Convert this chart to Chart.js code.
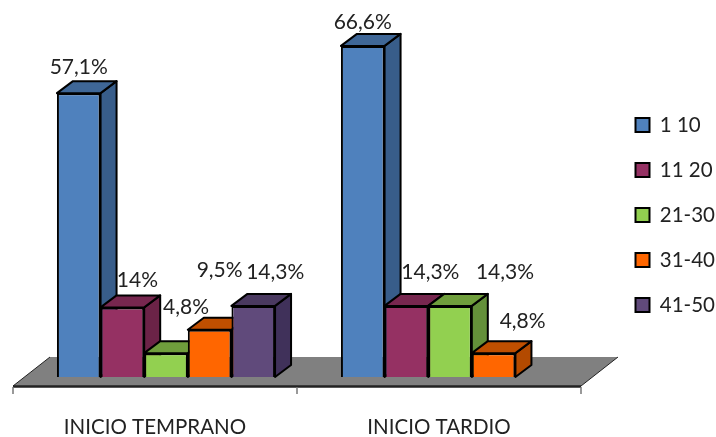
<!DOCTYPE html>
<html>
<head>
<meta charset="utf-8">
<style>
  html, body { margin: 0; padding: 0; background: #fff; }
  #wrap { width: 716px; height: 437px; }
  canvas { filter: blur(0.45px); }
</style>
<script src="https://cdn.jsdelivr.net/npm/chart.js@4"></script>
</head>
<body>
<div id="wrap"><canvas id="chart" width="716" height="437"></canvas></div>
<script>
const categories = ['INICIO TEMPRANO', 'INICIO TARDIO'];
const seriesNames = ['1 10', '11 20', '21-30', '31-40', '41-50'];
const values1to10 = [57.1, 66.6];
const values11to20 = [14, 14.3];
const values21to30 = [4.8, 14.3];
const values31to40 = [9.5, 4.8];
const values41to50 = [14.3, null];

const seriesValues = [values1to10, values11to20, values21to30, values31to40, values41to50];
const frontColors = ['#4f81bd', '#953163', '#92d050', '#ff6600', '#604a7b'];
const topColors = ['#3f6797', '#77274f', '#6f9e3c', '#c04f00', '#4a3960'];
const sideColors = ['#385d8a', '#6b2347', '#64903a', '#b34a00', '#40315a'];

// the labels in the original were moved by hand, so each one has its own nudge
const labelNudge = [
  [[0, -26], [0, -24]],
  [[15, -27], [24, -34]],
  [[20, -46], [55, -34]],
  [[10, -60], [29, -32]],
  [[22, -34], [0, 0]]
];

const depthX = 16;
const depthY = -12;
const floorShift = 11; // bars stand in the middle of the floor depth
const legendLift = 18;

function formatLabel(v) {
  return String(v).replace('.', ',') + '%';
}

function fillPoly(ctx, pts, fill) {
  ctx.beginPath();
  pts.forEach((p, i) => i ? ctx.lineTo(p[0], p[1]) : ctx.moveTo(p[0], p[1]));
  ctx.closePath();
  ctx.fillStyle = fill;
  ctx.fill();
  ctx.stroke();
}

const box3d = {
  id: 'box3d',
  afterLayout(chart) {
    chart.legend.top -= legendLift;
    chart.legend.bottom -= legendLift;
  },
  beforeDatasetsDraw(chart) {
    const ctx = chart.ctx;
    const xs = chart.scales.x;
    const ys = chart.scales.y;
    const base = ys.getPixelForValue(0);
    const left = xs.left - floorShift;
    const right = xs.right - floorShift;

    // floor
    ctx.save();
    ctx.beginPath();
    ctx.moveTo(left, base + 9);
    ctx.lineTo(left + 37, base - 20);
    ctx.lineTo(right + 37, base - 20);
    ctx.lineTo(right, base + 9);
    ctx.closePath();
    ctx.fillStyle = '#808080';
    ctx.fill();
    ctx.strokeStyle = '#222';
    ctx.beginPath();
    ctx.moveTo(left, base + 9);
    ctx.lineTo(left + 37, base - 20);
    ctx.moveTo(right, base + 9);
    ctx.lineTo(right + 37, base - 20);
    ctx.lineWidth = 1;
    ctx.stroke();
    ctx.beginPath();
    ctx.moveTo(left, base + 9.5);
    ctx.lineTo(right, base + 9.5);
    ctx.lineWidth = 2.5;
    ctx.stroke();

    // axis ticks
    ctx.strokeStyle = '#777';
    ctx.lineWidth = 1.5;
    [left, (left + right) / 2, right].forEach(x => {
      ctx.beginPath();
      ctx.moveTo(x, base + 10);
      ctx.lineTo(x, base + 17);
      ctx.stroke();
    });

    // tops and sides, left to right so later boxes cover earlier ones
    ctx.strokeStyle = '#000';
    ctx.lineWidth = 2;
    ctx.lineJoin = 'round';
    for (let c = 0; c < categories.length; c++) {
      seriesValues.forEach((vals, s) => {
        if (vals[c] == null) return;
        const bar = chart.getDatasetMeta(s).data[c];
        const x0 = bar.x - bar.width / 2;
        const x1 = bar.x + bar.width / 2;
        fillPoly(ctx, [[x1, bar.y], [x1 + depthX, bar.y + depthY], [x1 + depthX, bar.base + depthY], [x1, bar.base]], sideColors[s]);
        fillPoly(ctx, [[x0, bar.y], [x0 + depthX, bar.y + depthY], [x1 + depthX, bar.y + depthY], [x1, bar.y]], topColors[s]);
      });
    }
    ctx.restore();
  },
  afterDatasetsDraw(chart) {
    const ctx = chart.ctx;
    ctx.save();
    ctx.font = '21px Lato';
    ctx.fillStyle = '#222';
    ctx.textAlign = 'center';
    ctx.textBaseline = 'middle';
    seriesValues.forEach((vals, s) => {
      vals.forEach((v, c) => {
        if (v == null) return;
        const bar = chart.getDatasetMeta(s).data[c];
        const nudge = labelNudge[s][c];
        ctx.fillText(formatLabel(v), bar.x + nudge[0], bar.y + nudge[1]);
      });
    });
    ctx.restore();
  }
};

new Chart(document.getElementById('chart'), {
  type: 'bar',
  plugins: [box3d],
  data: {
    labels: categories,
    datasets: seriesNames.map((name, s) => ({
      label: name,
      data: seriesValues[s],
      backgroundColor: frontColors[s],
      borderColor: '#000',
      borderWidth: 2
    }))
  },
  options: {
    responsive: false,
    animation: false,
    layout: { padding: { left: 24, top: 29, right: 0, bottom: 0 } },
    datasets: { bar: { categoryPercentage: 0.768, barPercentage: 1 } },
    scales: {
      x: {
        grid: { display: false },
        border: { display: false },
        ticks: { color: '#222', font: { family: 'Lato', size: 20.5 }, padding: 30, labelOffset: -11, maxRotation: 0 },
        afterFit(scale) { scale.height = 60; }
      },
      y: {
        position: 'right',
        min: 0,
        max: 70,
        grid: { display: false },
        border: { display: false },
        ticks: { display: false },
        afterFit(scale) { scale.width = 19; }
      }
    },
    plugins: {
      tooltip: { enabled: false },
      legend: {
        position: 'right',
        maxWidth: 105,
        labels: {
          color: '#222',
          font: { family: 'Lato', size: 20.5 },
          boxWidth: 14,
          boxHeight: 14,
          padding: 24.5
        }
      }
    }
  }
});
</script>
</body>
</html>
